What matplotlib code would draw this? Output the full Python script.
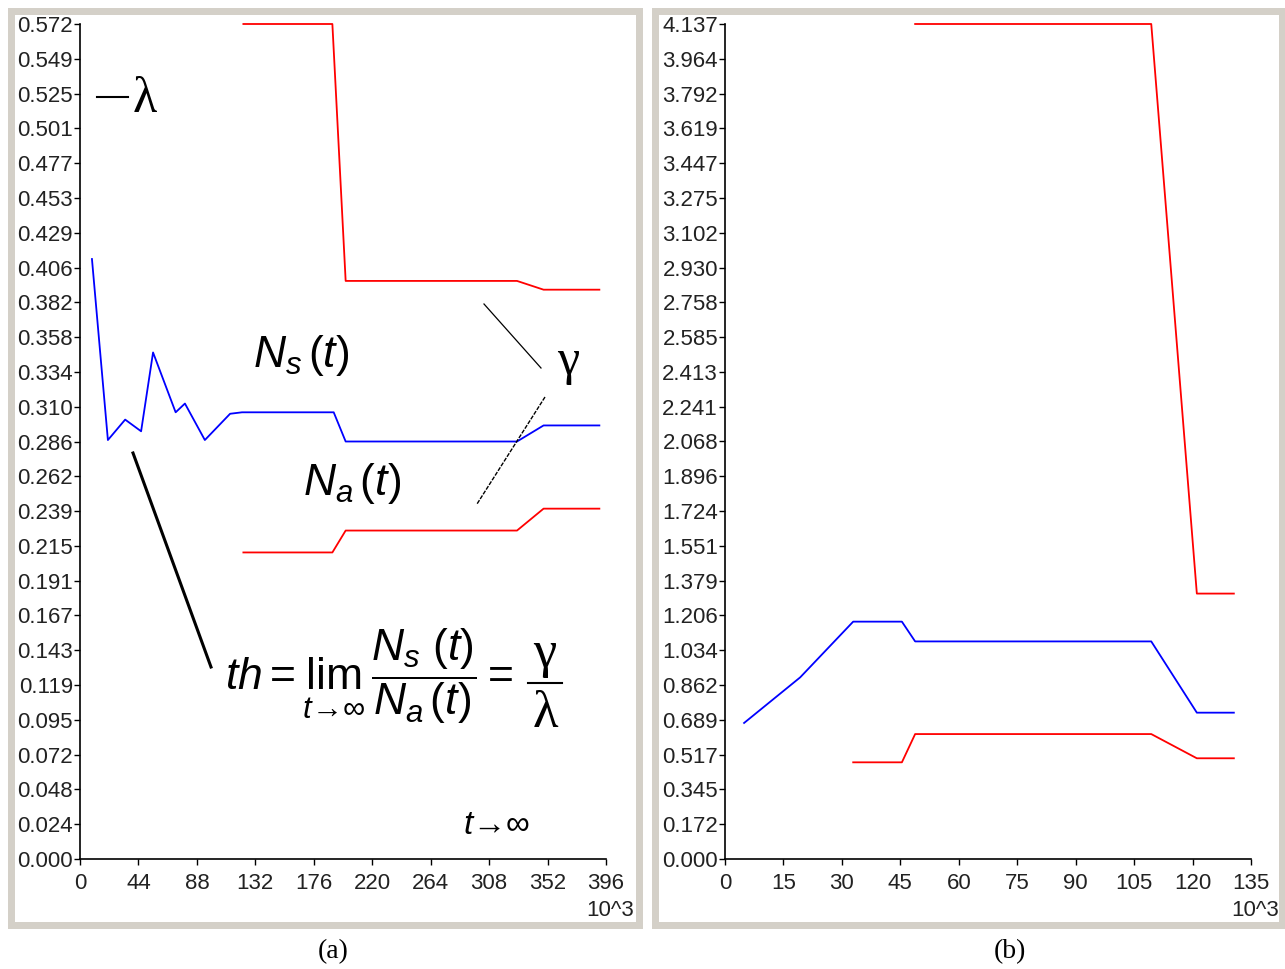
import matplotlib
matplotlib.use("Agg")
import matplotlib.pyplot as plt
from matplotlib.patches import Rectangle
from matplotlib.lines import Line2D

plt.rcParams['mathtext.fontset'] = 'custom'
plt.rcParams['mathtext.rm'] = 'Liberation Sans'
plt.rcParams['mathtext.it'] = 'Liberation Sans:italic'
plt.rcParams['mathtext.sf'] = 'Liberation Sans'
plt.rcParams['mathtext.cal'] = 'Liberation Serif'

# panel (a): t in 10^3
a_lam_t = [123, 190, 200, 329, 349, 391]
a_lam_v = [0.572, 0.572, 0.396, 0.396, 0.390, 0.390]
a_ns_t = [9, 21, 34, 46, 55, 72, 79, 94, 113, 122, 191, 200, 329, 349, 391]
a_ns_v = [0.411, 0.287, 0.301, 0.293, 0.347, 0.306, 0.312, 0.287, 0.305, 0.306,
          0.306, 0.286, 0.286, 0.297, 0.297]
a_na_t = [123, 190, 200, 329, 349, 391]
a_na_v = [0.210, 0.210, 0.225, 0.225, 0.240, 0.240]
a_xticks = [0, 44, 88, 132, 176, 220, 264, 308, 352, 396]
a_ylabels = ['0.000', '0.024', '0.048', '0.072', '0.095', '0.119', '0.143', '0.167',
             '0.191', '0.215', '0.239', '0.262', '0.286', '0.310', '0.334', '0.358',
             '0.382', '0.406', '0.429', '0.453', '0.477', '0.501', '0.525', '0.549', '0.572']

# panel (b)
b_lam_t = [48.8, 109.4, 121.1, 130.6]
b_lam_v = [4.137, 4.137, 1.315, 1.315]
b_ns_t = [4.9, 19.3, 32.9, 45.4, 48.8, 109.4, 121.1, 130.6]
b_ns_v = [0.674, 0.900, 1.176, 1.176, 1.078, 1.078, 0.725, 0.725]
b_na_t = [32.9, 45.4, 48.8, 109.4, 121.1, 130.6]
b_na_v = [0.479, 0.479, 0.619, 0.619, 0.499, 0.499]
b_xticks = [0, 15, 30, 45, 60, 75, 90, 105, 120, 135]
b_ylabels = ['0.000', '0.172', '0.345', '0.517', '0.689', '0.862', '1.034', '1.206',
             '1.379', '1.551', '1.724', '1.896', '2.068', '2.241', '2.413', '2.585',
             '2.758', '2.930', '3.102', '3.275', '3.447', '3.619', '3.792', '3.964', '4.137']

W, H = 1285, 969
fig = plt.figure(figsize=(W / 100, H / 100), dpi=100)


def fx(x):
    return x / W


def fy(y):
    return 1 - y / H


tickfont = ['Liberation Sans Narrow', 'Liberation Sans']

# grey frames
for x0, x1 in [(10.5, 638.5), (654.5, 1281.5)]:
    fig.add_artist(Rectangle((fx(x0), fy(924.5)), fx(x1) - fx(x0), fy(10.5) - fy(924.5),
                             transform=fig.transFigure, facecolor='white',
                             edgecolor='#d4d0c8', lw=5.04, zorder=-5))


def panel(left, right, xmax, xticks, ylabels, ymax, series, unit_x):
    ax = fig.add_axes([fx(left), fy(859), fx(right) - fx(left), fy(24) - fy(859)])
    ax.set_facecolor('none')
    for t, v, c in series:
        ax.plot(t, v, color=c, lw=1.3, clip_on=False)
    ax.set_xlim(0, xmax)
    ax.set_ylim(0, ymax)
    ax.set_xticks(xticks)
    ax.set_xticklabels([str(x) for x in xticks])
    n = len(ylabels) - 1
    ax.set_yticks([ymax * k / n for k in range(n + 1)])
    ax.set_yticklabels(ylabels)
    for s in ['top', 'right']:
        ax.spines[s].set_visible(False)
    for s in ['left', 'bottom']:
        ax.spines[s].set_linewidth(1.2)
    ax.tick_params(direction='out', length=4, width=1, labelsize=16, pad=1,
                   labelcolor='#222222')
    ax.tick_params(axis='x', pad=6)
    for lab in ax.get_xticklabels() + ax.get_yticklabels():
        lab.set_family(tickfont)
    fig.text(fx(unit_x), fy(911), '10^3', ha='right', va='center', size=16,
             family=tickfont, color='#222222')
    return ax


panel(80, 606, 396, a_xticks, a_ylabels, 0.572,
      [(a_lam_t, a_lam_v, '#ff0000'), (a_ns_t, a_ns_v, '#0000ff'), (a_na_t, a_na_v, '#ff0000')], 634)
panel(725, 1251, 135, b_xticks, b_ylabels, 4.137,
      [(b_lam_t, b_lam_v, '#ff0000'), (b_ns_t, b_ns_v, '#0000ff'), (b_na_t, b_na_v, '#ff0000')], 1279)

# captions
fig.text(fx(333), fy(952), '(a)', ha='center', va='center', size=20, family='Liberation Serif')
fig.text(fx(1010), fy(952), '(b)', ha='center', va='center', size=20, family='Liberation Serif')

# annotations on panel (a)
fig.add_artist(Line2D([fx(97), fx(128)], [fy(97), fy(97)], color='black', lw=1.5))
fig.text(fx(145), fy(100), '\u03bb', ha='center', va='center', size=36, family='Liberation Serif')
fig.text(fx(253), fy(356), r'$N_s\,(t)$', ha='left', va='center', size=32)
fig.text(fx(303), fy(484), r'$N_a\,(t)$', ha='left', va='center', size=32)
fig.text(fx(568), fy(362), '\u03b3', ha='center', va='center', size=36, family='Liberation Serif')
fig.add_artist(Line2D([fx(484), fx(541)], [fy(304), fy(368)], color='black', lw=0.9))
fig.add_artist(Line2D([fx(545), fx(477)], [fy(397), fy(504)], color='black', lw=1.0,
                      ls=(0, (3, 1))))
fig.add_artist(Line2D([fx(133), fx(211)], [fy(453), fy(667)], color='black', lw=2.2))
fig.text(fx(225), fy(690), r'$th = \lim_{t→∞}\,\dfrac{N_s\,(t)}{N_a\,(t)} =$',
         ha='left', va='baseline', size=32)
# gamma / lambda fraction
fig.text(fx(545), fy(654), '\u03b3', ha='center', va='center', size=38, family='Liberation Serif')
fig.add_artist(Line2D([fx(528), fx(562)], [fy(683), fy(683)], color='black', lw=1.5))
fig.text(fx(545), fy(714), '\u03bb', ha='center', va='center', size=38, family='Liberation Serif')
fig.text(fx(497), fy(825), r'$t→∞$', ha='center', va='center', size=24)

fig.savefig('out.png', dpi=100)
